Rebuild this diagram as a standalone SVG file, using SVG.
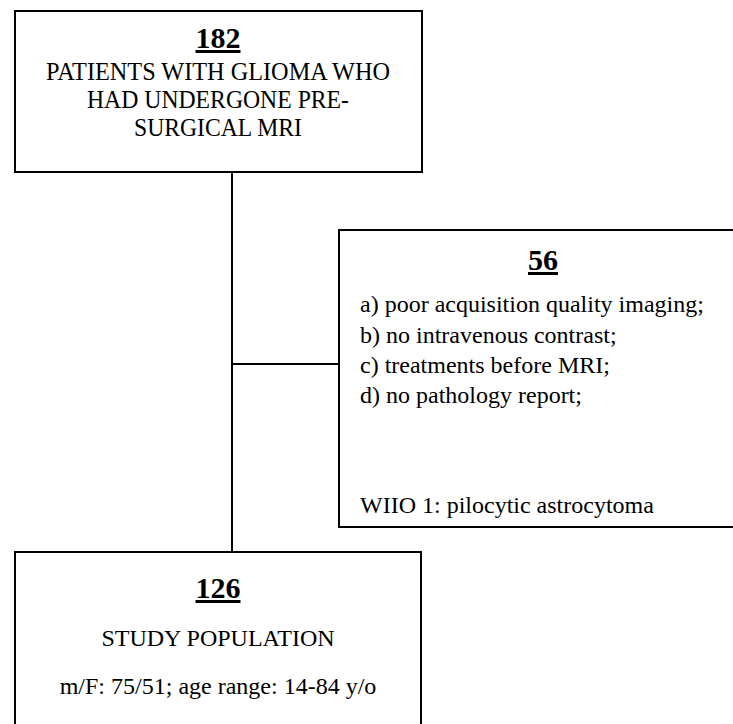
<svg xmlns="http://www.w3.org/2000/svg" width="733" height="724" viewBox="0 0 733 724">
<style>
.box{fill:#fff;stroke:#000;stroke-width:2}
.t{font-family:"Liberation Serif","Times New Roman",serif;font-size:24px;fill:#000}
.tb{font-family:"Liberation Serif","Times New Roman",serif;font-size:25px;fill:#000}
.n{font-family:"Liberation Serif","Times New Roman",serif;font-size:30px;font-weight:bold;fill:#000;text-decoration:underline}
.c{text-anchor:middle}
.ln{stroke:#000;stroke-width:2;fill:none}
</style>
<rect width="733" height="724" fill="#fff"/>
<g id="connectors">
<line class="ln" x1="232" y1="172" x2="232" y2="552"/>
<line class="ln" x1="232" y1="364" x2="339" y2="364"/>
</g>
<g id="node-182">
<rect class="box" x="15" y="11" width="407" height="161"/>
<text class="n c" x="218" y="48">182</text>
<text class="tb c" x="218" y="79.5" textLength="344" lengthAdjust="spacingAndGlyphs">PATIENTS WITH GLIOMA WHO</text>
<text class="tb c" x="218" y="107.5" textLength="262" lengthAdjust="spacingAndGlyphs">HAD UNDERGONE PRE-</text>
<text class="tb c" x="218" y="136" textLength="168" lengthAdjust="spacingAndGlyphs">SURGICAL MRI</text>
</g>
<g id="node-56">
<rect class="box" x="339" y="230" width="410" height="297"/>
<text class="n c" x="543" y="270">56</text>
<text class="t" x="360" y="312">a) poor acquisition quality imaging;</text>
<text class="t" x="360" y="343">b) no intravenous contrast;</text>
<text class="t" x="360" y="373">c) treatments before MRI;</text>
<text class="t" x="360" y="403">d) no pathology report;</text>
<text class="t" x="360" y="513">WIIO 1: pilocytic astrocytoma</text>
</g>
<g id="node-126">
<rect class="box" x="15" y="552" width="406" height="190"/>
<text class="n c" x="218" y="598">126</text>
<text class="t c" x="218" y="646">STUDY POPULATION</text>
<text class="t c" x="218" y="694">m/F: 75/51; age range: 14-84 y/o</text>
</g>
</svg>
